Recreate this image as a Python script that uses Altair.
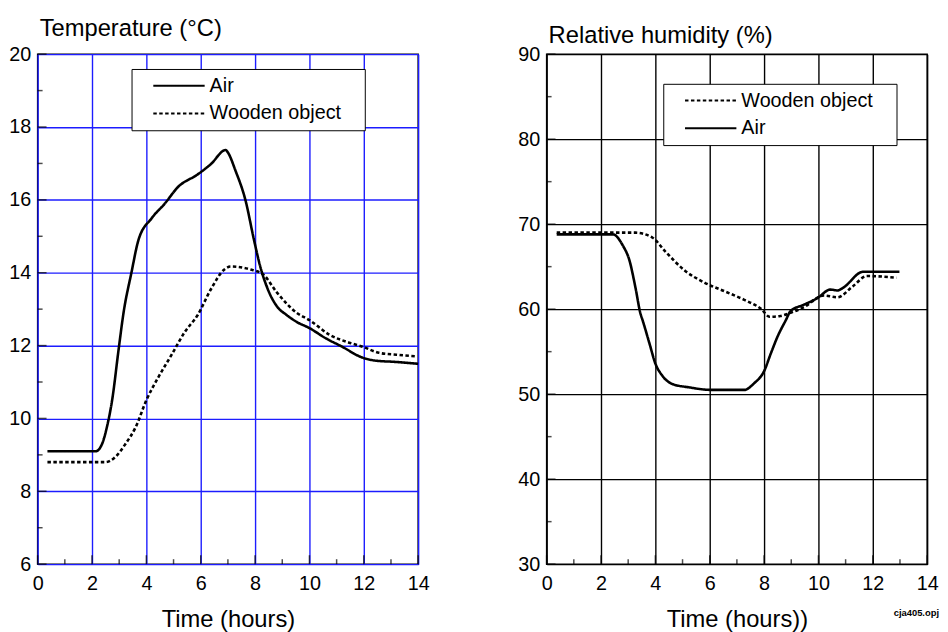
import altair as alt
import pandas as pd

# ---- data ----
temp_t_air = [0.36, 2.14, 2.37, 2.56, 2.74, 2.98, 3.16, 3.45, 3.71, 4.2, 4.68, 5.16, 5.89, 6.37, 6.92, 7.0,
              7.28, 7.65, 7.96, 8.19, 8.44, 8.8, 9.16, 9.53, 10.0, 10.6, 11.2, 11.95, 12.4, 13.2, 14.0]
temp_air = [9.1, 9.1, 9.3, 9.8, 10.5, 11.9, 12.9, 14.0, 14.9, 15.5, 15.9, 16.35, 16.7, 16.98, 17.37, 17.3,
            16.8, 15.98, 14.9, 14.17, 13.6, 13.08, 12.84, 12.65, 12.48, 12.2, 11.97, 11.67, 11.59, 11.55, 11.5]
temp_t_wood = [0.36, 2.5, 2.87, 3.23, 3.6, 4.0, 4.44, 4.93, 5.41, 5.89, 6.37, 6.87, 7.1, 7.83, 8.3, 8.8,
               9.53, 10.0, 10.73, 11.46, 11.95, 12.56, 13.2, 13.96]
temp_wood = [8.8, 8.8, 8.95, 9.3, 9.75, 10.5, 11.13, 11.75, 12.37, 12.84, 13.54, 14.09, 14.17, 14.09, 13.95,
             13.46, 12.9, 12.7, 12.3, 12.08, 11.97, 11.8, 11.75, 11.7]

rh_t_air = [0.37, 2.44, 2.8, 3.05, 3.27, 3.45, 3.53, 3.78, 4.0, 4.25, 4.62, 5.24, 6.07, 7.27, 7.64, 8.0,
            8.25, 8.5, 8.8, 8.98, 9.45, 9.96, 10.44, 10.7, 10.9, 11.64, 12.98]
rh_air = [68.8, 68.8, 67.5, 65.7, 62.5, 59.5, 58.7, 56.0, 53.6, 52.2, 51.2, 50.8, 50.5, 50.5, 51.3, 52.7,
          54.8, 56.8, 58.7, 59.8, 60.5, 61.3, 62.3, 62.2, 62.5, 64.4, 64.4]
rh_t_wood = [0.37, 3.27, 3.9, 4.36, 5.1, 5.82, 6.55, 7.27, 7.9, 8.2, 8.6, 9.0, 9.45, 10.2, 10.7, 11.27,
             11.78, 12.87]
rh_wood = [69.0, 69.0, 68.4, 66.8, 64.5, 63.1, 62.1, 61.1, 60.0, 59.1, 59.2, 59.6, 60.2, 61.6, 61.4, 62.7,
           63.9, 63.7]

x_major = [0, 2, 4, 6, 8, 10, 12, 14]
x_minor = [1, 3, 5, 7, 9, 11, 13]
temp_major = [6, 8, 10, 12, 14, 16, 18, 20]
temp_minor = [7, 9, 11, 13, 15, 17, 19]
rh_major = [30, 40, 50, 60, 70, 80, 90]
rh_minor = [35, 45, 55, 65, 75, 85]

FONT = "Liberation Sans"
W, H = 385, 516
PAD = "\u00a0" * 3 + "\u200b"   # keeps the legend box a little wider than the labels

temp_df = pd.concat([
    pd.DataFrame({"t": temp_t_air, "v": temp_air, "series": "Air"}),
    pd.DataFrame({"t": temp_t_wood, "v": temp_wood, "series": "Wooden object"}),
])
rh_df = pd.concat([
    pd.DataFrame({"t": rh_t_air, "v": rh_air, "series": "Air"}),
    pd.DataFrame({"t": rh_t_wood, "v": rh_wood, "series": "Wooden object"}),
])


def panel(df, ydom, ymaj, ymin, gridcolor, title, title_offset, xtitle, order, dashes, lx, ly, extra=None):
    xs = alt.Scale(domain=[0, 14], nice=False, zero=False)
    ys = alt.Scale(domain=ydom, nice=False, zero=False)
    xaxis = alt.Axis(values=x_major, grid=True, gridColor=gridcolor, gridWidth=1.4, ticks=False, domain=False,
                     labelFontSize=20, labelFont=FONT, labelColor="black", labelPadding=10, labelFlush=False,
                     title=xtitle, titleFontSize=24, titleFont=FONT, titleFontWeight="normal",
                     titleColor="black", titlePadding=14)
    yaxis = alt.Axis(values=ymaj, grid=True, gridColor=gridcolor, gridWidth=1.4, ticks=False, domain=False,
                     labelFontSize=20, labelFont=FONT, labelColor="black", labelPadding=7, title=None)
    legend = alt.Legend(orient="none", legendX=lx, legendY=ly, title=None,
                        symbolType="M-5,0L5,0", symbolSize=108, symbolStrokeWidth=2,
                        symbolStrokeColor="black", symbolOffset=31, labelOffset=21,
                        padding=7, rowPadding=8, strokeColor="black", fillColor="white",
                        labelFontSize=20, labelFont=FONT, labelColor="black",
                        labelExpr="datum.label + '" + PAD + "'")
    lines = alt.Chart(df).mark_line(color="black", strokeWidth=2.6, interpolate="monotone").encode(
        x=alt.X("t:Q", scale=xs, axis=xaxis),
        y=alt.Y("v:Q", scale=ys, axis=yaxis),
        strokeDash=alt.StrokeDash("series:N", scale=alt.Scale(domain=order, range=dashes), legend=legend),
        detail="series:N",
    )
    xmaj = alt.Chart(pd.DataFrame({"t": x_major})).mark_tick(orient="vertical", color="black", size=9,
                                                              thickness=1.5).encode(
        x=alt.X("t:Q", scale=xs), y=alt.value(H - 4.5))
    xmin = alt.Chart(pd.DataFrame({"t": x_minor})).mark_tick(orient="vertical", color="black", size=5,
                                                              thickness=1.5).encode(
        x=alt.X("t:Q", scale=xs), y=alt.value(H - 2.5))
    ymj = alt.Chart(pd.DataFrame({"v": ymaj})).mark_tick(orient="horizontal", color="black", size=9,
                                                          thickness=1.5).encode(
        y=alt.Y("v:Q", scale=ys), x=alt.value(4.5))
    ymn = alt.Chart(pd.DataFrame({"v": ymin})).mark_tick(orient="horizontal", color="black", size=5,
                                                          thickness=1.5).encode(
        y=alt.Y("v:Q", scale=ys), x=alt.value(2.5))
    layers = [lines, xmaj, xmin, ymj, ymn]
    if extra is not None:
        layers.append(extra)
    return alt.layer(*layers).properties(
        width=W, height=H,
        title=alt.TitleParams(title, anchor="start", frame="group", fontSize=24, font=FONT,
                              fontWeight="normal", color="black", offset=title_offset, dx=2),
    )


note = alt.Chart(pd.DataFrame({"s": ["cja405.opj"]})).mark_text(
    align="right", baseline="alphabetic", fontSize=9.5, font=FONT, fontWeight="bold", color="black"
).encode(text="s:N", x=alt.value(W + 12), y=alt.value(H + 52))

left = panel(temp_df, [6, 20], temp_major, temp_minor, "#1c1cff", "Temperature (°C)", 3, "Time (hours)",
             ["Air", "Wooden object"], [[1, 0], [3.5, 2.5]], 95, 15)
right = panel(rh_df, [30, 90], rh_major, rh_minor, "black", "Relative humidity (%)", -4, "Time (hours))",
              ["Wooden object", "Air"], [[3.5, 2.5], [1, 0]], 118, 30, extra=note)

chart = alt.hconcat(left, right, spacing=88).resolve_scale(
    strokeDash="independent", x="independent", y="independent"
).resolve_legend(strokeDash="independent").configure_view(
    stroke="black", strokeWidth=1.5
).properties(padding={"left": 0, "top": 5, "right": 0, "bottom": 0}, background="white")

chart.save("out.html", embed_options={"renderer": "svg", "actions": False})
